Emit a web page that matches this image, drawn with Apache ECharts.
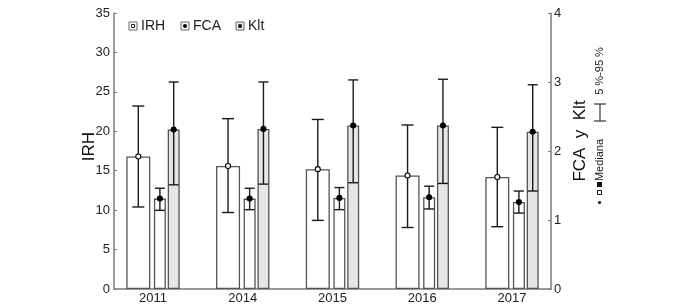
<!DOCTYPE html>
<html>
<head>
<meta charset="utf-8">
<script src="https://cdn.jsdelivr.net/npm/echarts@6/dist/echarts.min.js"></script>
<style>
html,body{margin:0;padding:0;background:#fff;}
#main{width:689px;height:308px;}
</style>
</head>
<body>
<div id="main"></div>
<script>
// years on the x axis
var years = ['2011', '2014', '2015', '2016', '2017'];
// IRH (left axis): median, 5 % and 95 %
var irhMed = [16.8, 15.6, 15.2, 14.4, 14.2];
var irhLow = [10.4, 9.7, 8.7, 7.8, 7.9];
var irhHigh = [23.2, 21.6, 21.5, 20.8, 20.5];
// FCA (right axis)
var fcaMed = [1.31, 1.31, 1.32, 1.33, 1.26];
var fcaLow = [1.14, 1.15, 1.15, 1.16, 1.10];
var fcaHigh = [1.46, 1.46, 1.47, 1.49, 1.42];
// Klt (right axis)
var kltMed = [2.31, 2.32, 2.37, 2.37, 2.28];
var kltLow = [1.51, 1.52, 1.54, 1.53, 1.42];
var kltHigh = [3.00, 3.00, 3.03, 3.04, 2.96];

var barW = [24, 12, 12];
var gapPct = 0.15;
// same offsets as the bar layout uses, so the whiskers sit on the bars
var offs = [];
var sum = 0;
for (var k = 0; k < barW.length; k++) {
	sum += barW[k] * (1 + gapPct);
}
sum -= barW[barW.length - 1] * gapPct;
var cur = -sum / 2;
for (var k = 0; k < barW.length; k++) {
	offs[k] = cur + barW[k] / 2;
	cur += barW[k] * (1 + gapPct);
}

function pairs(arr) {
	var out = [];
	for (var i = 0; i < arr.length; i++) out.push([i, arr[i]]);
	return out;
}

function errSeries(yIdx, med, low, high, off, cap, hollow) {
	var d = [];
	for (var i = 0; i < med.length; i++) d.push([i, low[i], high[i], med[i]]);
	return {
		type: 'custom',
		yAxisIndex: yIdx,
		z: 10,
		data: d,
		encode: {x: 0, y: [1, 2]},
		renderItem: function (params, api) {
			var x = api.value(0);
			var lo = api.coord([x, api.value(1)]);
			var hi = api.coord([x, api.value(2)]);
			var md = api.coord([x, api.value(3)]);
			var cx = lo[0] + off;
			var ls = {stroke: '#1a1a1a', lineWidth: 1.4};
			return {
				type: 'group',
				children: [
					{type: 'line', shape: {x1: cx, y1: lo[1], x2: cx, y2: hi[1]}, style: ls},
					{type: 'line', shape: {x1: cx - cap, y1: lo[1], x2: cx + cap, y2: lo[1]}, style: ls},
					{type: 'line', shape: {x1: cx - cap, y1: hi[1], x2: cx + cap, y2: hi[1]}, style: ls},
					{type: 'circle', shape: {cx: cx, cy: md[1], r: 2.5},
						style: {fill: hollow ? '#fff' : '#000', stroke: '#000', lineWidth: 1.1}}
				]
			};
		}
	};
}

var myChart = echarts.init(document.getElementById('main'));
var axisGrey = '#7a7a7a';
var option = {
	animation: false,
	textStyle: {fontFamily: 'Liberation Sans, Arial, sans-serif'},
	grid: {left: 114, right: 138, top: 13, bottom: 19},
	xAxis: {
		type: 'value',
		min: -0.4345,
		max: 4.4345,
		axisLine: {show: true, onZero: false, lineStyle: {color: axisGrey, width: 1.5}},
		axisTick: {show: false},
		splitLine: {show: false},
		axisLabel: {
			customValues: [0, 1, 2, 3, 4],
			formatter: function (v) { return years[Math.round(v)]; },
			fontSize: 13, color: '#222', margin: 3
		}
	},
	yAxis: [
		{
			type: 'value', min: 0, max: 35, interval: 5,
			name: 'IRH', nameLocation: 'middle', nameGap: 16, nameMoveOverlap: false,
			nameTextStyle: {fontSize: 17, color: '#111', padding: [0, 0, 0, 9]},
			axisLine: {show: true, onZero: false, lineStyle: {color: axisGrey, width: 1.5}},
			axisTick: {show: true, inside: true, length: 3, lineStyle: {color: axisGrey}},
			splitLine: {show: false},
			axisLabel: {fontSize: 13, color: '#222', margin: 4}
		},
		{
			type: 'value', position: 'right', min: 0, max: 4, interval: 1,
			name: 'FCA  y  Klt', nameLocation: 'middle', nameGap: 16,
			nameTextStyle: {fontSize: 17, color: '#111', padding: [0, 0, 0, 20]},
			axisLine: {show: true, onZero: false, lineStyle: {color: axisGrey, width: 1.5}},
			axisTick: {show: true, inside: true, length: 3, lineStyle: {color: axisGrey}},
			splitLine: {show: false},
			axisLabel: {fontSize: 13, color: '#222', margin: 3}
		}
	],
	series: [
		{
			name: 'IRH', type: 'bar', yAxisIndex: 0, data: pairs(irhMed),
			barWidth: barW[0], barGap: (gapPct * 100) + '%',
			itemStyle: {color: '#fff', borderColor: '#555', borderWidth: 1.3}
		},
		{
			name: 'FCA', type: 'bar', yAxisIndex: 1, data: pairs(fcaMed),
			barWidth: barW[1], barGap: (gapPct * 100) + '%',
			itemStyle: {color: '#fff', borderColor: '#555', borderWidth: 1.3}
		},
		{
			name: 'Klt', type: 'bar', yAxisIndex: 1, data: pairs(kltMed),
			barWidth: barW[2], barGap: (gapPct * 100) + '%',
			itemStyle: {color: '#e6e6e6', borderColor: '#555', borderWidth: 1.3}
		},
		errSeries(0, irhMed, irhLow, irhHigh, offs[0], 6, true),
		errSeries(1, fcaMed, fcaLow, fcaHigh, offs[1], 5, false),
		errSeries(1, kltMed, kltLow, kltHigh, offs[2], 5, false)
	],
	graphic: [
		// top legend
		{type: 'rect', shape: {x: 129, y: 22, width: 8, height: 8}, style: {fill: '#fff', stroke: '#666', lineWidth: 1}},
		{type: 'rect', shape: {x: 131.5, y: 24.5, width: 3, height: 3}, style: {fill: '#fff', stroke: '#222', lineWidth: 1}},
		{type: 'text', x: 141, y: 26.5, style: {text: 'IRH', fontSize: 14, fill: '#222', verticalAlign: 'middle', fontFamily: 'Liberation Sans'}},
		{type: 'rect', shape: {x: 181, y: 22, width: 8, height: 8}, style: {fill: '#fff', stroke: '#666', lineWidth: 1}},
		{type: 'circle', shape: {cx: 185, cy: 26, r: 2}, style: {fill: '#000'}},
		{type: 'text', x: 193, y: 26.5, style: {text: 'FCA', fontSize: 14, fill: '#222', verticalAlign: 'middle', fontFamily: 'Liberation Sans'}},
		{type: 'rect', shape: {x: 236, y: 22, width: 8, height: 8}, style: {fill: '#eee', stroke: '#666', lineWidth: 1}},
		{type: 'rect', shape: {x: 238.3, y: 24.3, width: 3.5, height: 3.5}, style: {fill: '#000'}},
		{type: 'text', x: 248, y: 26.5, style: {text: 'Klt', fontSize: 14, fill: '#222', verticalAlign: 'middle', fontFamily: 'Liberation Sans'}},
		// right legend, rotated
		{type: 'text', x: 600, y: 71, rotation: Math.PI / 2,
			style: {text: '5 %-95 %', fontSize: 11, fill: '#222', align: 'center', verticalAlign: 'middle', fontFamily: 'Liberation Sans'}},
		{type: 'line', shape: {x1: 600, y1: 104, x2: 600, y2: 121}, style: {stroke: '#333', lineWidth: 1.2}},
		{type: 'line', shape: {x1: 594, y1: 104, x2: 606, y2: 104}, style: {stroke: '#333', lineWidth: 1.2}},
		{type: 'line', shape: {x1: 594, y1: 121, x2: 606, y2: 121}, style: {stroke: '#333', lineWidth: 1.2}},
		{type: 'text', x: 600, y: 160, rotation: Math.PI / 2,
			style: {text: 'Mediana', fontSize: 11, fill: '#222', align: 'center', verticalAlign: 'middle', fontFamily: 'Liberation Sans'}},
		{type: 'rect', shape: {x: 597, y: 182, width: 5, height: 5}, style: {fill: '#111'}},
		{type: 'rect', shape: {x: 597.5, y: 190.5, width: 4, height: 4}, style: {fill: '#fff', stroke: '#111', lineWidth: 1}},
		{type: 'circle', shape: {cx: 599.5, cy: 202.5, r: 1.6}, style: {fill: '#111'}}
	]
};
myChart.setOption(option);
</script>
</body>
</html>
